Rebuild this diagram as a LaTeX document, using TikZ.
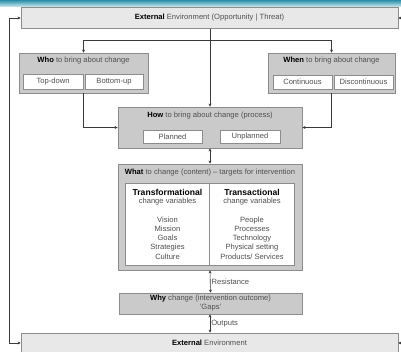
\documentclass[tikz,border=0pt]{standalone}
\usepackage{fontspec}
\setmainfont{Liberation Sans}
\usetikzlibrary{arrows.meta}
\definecolor{outerfill}{HTML}{E8E8E8}
\definecolor{midfill}{HTML}{CACACA}
\definecolor{edge}{HTML}{8C8C8C}
\definecolor{txt}{HTML}{505050}
\definecolor{lnk}{HTML}{3A3A3A}
\definecolor{bandA}{HTML}{2A8EA8}
\definecolor{bandB}{HTML}{B8E0E8}
\newcommand\kw[1]{\textbf{\textcolor{black}{#1}}}
\begin{document}
\begin{tikzpicture}[x=1pt,y=-1pt,
  font=\fontsize{7.6}{9}\selectfont, text=txt,
  envbox/.style={draw=edge, fill=outerfill, line width=0.8pt, inner sep=0},
  grpbox/.style={draw=edge, fill=midfill, line width=0.8pt, inner sep=0},
  optbox/.style={draw=edge, fill=white, line width=0.6pt, inner sep=0},
  lbl/.style={inner sep=0},
  colhead/.style={inner sep=0, font=\fontsize{8.6}{10}\selectfont\bfseries, text=black},
  collist/.style={inner sep=0, align=center, anchor=north, font=\fontsize{7.6}{9.25}\selectfont},
  link/.style={draw=lnk, line width=0.6pt, -{Stealth[length=3pt,width=3pt]}},
  dlink/.style={draw=lnk, line width=0.6pt, {Stealth[length=3pt,width=3pt]}-{Stealth[length=3pt,width=3pt]}},
]
\useasboundingbox (0,0) rectangle (401,351);
\shade[top color=bandA, bottom color=bandB] (0,0) rectangle (401,6);

% environment boxes
\node[envbox, minimum width=377pt, minimum height=21pt] (top) at (209.5,18) {\kw{External} Environment (Opportunity | Threat)};
\node[envbox, minimum width=377pt, minimum height=20pt] (bot) at (209.5,343) {\kw{External} Environment};

% who
\node[grpbox, minimum width=129pt, minimum height=40pt] (who) at (83.5,73) {};
\node[lbl] (whot) at (83.5,61) {\kw{Who} to bring about change};
\node[optbox, minimum width=60pt, minimum height=15pt] (td) at (53,82) {Top-down};
\node[optbox, minimum width=58pt, minimum height=15pt] (bu) at (114,82) {Bottom-up};

% when
\node[grpbox, minimum width=127pt, minimum height=40pt] (when) at (331.5,73) {};
\node[lbl] (whent) at (331.5,61) {\kw{When} to bring about change};
\node[optbox, minimum width=59pt, minimum height=14pt] (cont) at (302.5,82) {Continuous};
\node[optbox, minimum width=59pt, minimum height=14pt] (disc) at (363.5,82) {Discontinuous};

% how
\node[grpbox, minimum width=184pt, minimum height=41pt] (how) at (210,127.5) {};
\node[lbl] (howt) at (210,115.5) {\kw{How} to bring about change (process)};
\node[optbox, minimum width=59pt, minimum height=13pt] (plan) at (172.5,136.5) {Planned};
\node[optbox, minimum width=60pt, minimum height=13pt] (unplan) at (250,136.5) {Unplanned};

% what
\node[grpbox, minimum width=184pt, minimum height=106pt] (what) at (210,217) {};
\node[lbl] (whatt) at (210,173) {\kw{What} to change (content) -- targets for intervention};
\node[optbox, minimum width=169pt, minimum height=82pt] (inner) at (209.5,224) {};
\draw[draw=edge, line width=0.6pt] (inner.north) -- (inner.south);
\node[colhead] (tfh) at (167.5,192) {Transformational};
\node[lbl] (tfs) at (167.5,201.5) {change variables};
\node[collist] (tfl) at (167.5,216.5) {Vision\\Mission\\Goals\\Strategies\\Culture};
\node[colhead] (tah) at (252,192) {Transactional};
\node[lbl] (tas) at (252,201.5) {change variables};
\node[collist] (tal) at (252,216.5) {People\\Processes\\Technology\\Physical setting\\Products/ Services};

% why
\node[grpbox, minimum width=183pt, minimum height=21pt, align=center, font=\fontsize{7.6}{9}\selectfont] (why) at (210.5,303.5) {\kw{Why} change (intervention outcome)\\'Gaps'};

% connectors
\coordinate (br) at (210,40);
\draw[draw=lnk, line width=0.6pt] (top.south -| br) -- (br);
\draw[link] (br) -- (how.north -| br);
\draw[link] (br) -| (who.north);
\draw[link] (br) -| (when.north);
\draw[link] (who.south) |- (how.west);
\draw[link] (when.south) |- (how.east);
\draw[dlink] (how.south) -- (what.north);
\draw[dlink] (what.south) -- node[lbl, anchor=west, xshift=1pt] (res) {Resistance} (why.north);
\draw[dlink] (why.south -| what.south) -- node[lbl, anchor=west, xshift=1pt] (out) {Outputs} (bot.north -| what.south);
\coordinate (lc) at (9.5,180);
\draw[dlink] (top.west) -| (lc) |- (bot.west);
\coordinate (rc1) at (406,18);
\coordinate (rc2) at (406,343);
\draw[link] (rc1) -- (top.east);
\draw[link] (rc2) -- (bot.east);
\end{tikzpicture}
\end{document}
